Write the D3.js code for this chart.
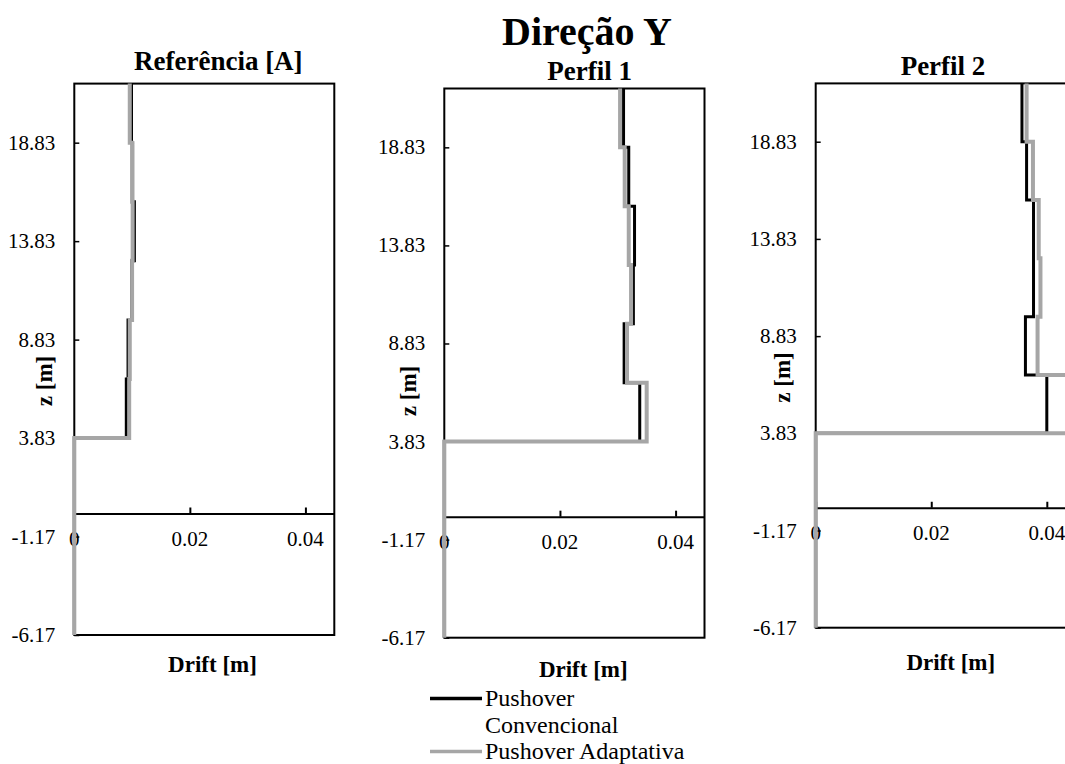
<!DOCTYPE html>
<html><head><meta charset="utf-8">
<script src="https://cdn.jsdelivr.net/npm/d3@7"></script>
<style>
body{margin:0;background:#fff}
svg{display:block}
text{font-family:"Liberation Serif","Times New Roman",serif;fill:#000}
</style>
</head><body>
<svg id="c" width="1065" height="764"></svg>
<script>
// ---- data ----
const levels = [-6.17, 3.83, 6.83, 9.83, 12.83, 15.83, 18.83, 21.83];
const refConv  = [0, 0.0090, 0.0093, 0.0099, 0.0104, 0.0101, 0.0099];
const refAdapt = [0, 0.0095, 0.0096, 0.0100, 0.0101, 0.0100, 0.0096];
const p1Conv   = [0, 0.0338, 0.0311, 0.0327, 0.0329, 0.0319, 0.0310];
const p1Adapt  = [0, 0.0350, 0.0316, 0.0323, 0.0319, 0.0312, 0.0304];
const p2Conv   = [0, 0.0400, 0.0363, 0.0377, 0.0377, 0.0365, 0.0357];
const p2Adapt  = [0, 0.0440, 0.0384, 0.0389, 0.0386, 0.0376, 0.0365];
const yTicks = [-6.17, -1.17, 3.83, 8.83, 13.83, 18.83];
const xTicks = [0, 0.02, 0.04];
const xDomain = [0, 0.045];
const zDomain = [-6.17, 21.83];
const panelTitles = ["Referência [A]", "Perfil 1", "Perfil 2"];
const mainTitle = "Direção Y";
const xTitle = "Drift [m]";
const yTitle = "z [m]";
const legendLines = [["Pushover", "Convencional"], ["Pushover Adaptativa"]];

// ---- layout ----
const panels = [
  {title: panelTitles[0], conv: refConv, adapt: refAdapt, left: 74.3, right: 334.3, top: 83.6, bottom: 635,
   tx: 218.3, ty: 70, ytx: 44, yty: 381, xtx: 212.5, xty: 671.7},
  {title: panelTitles[1], conv: p1Conv, adapt: p1Adapt, left: 444.3, right: 704.5, top: 88.5, bottom: 637.7,
   tx: 589.7, ty: 80, ytx: 408, yty: 391, xtx: 583.3, xty: 676.7},
  {title: panelTitles[2], conv: p2Conv, adapt: p2Adapt, left: 815.7, right: 1075.7, top: 83.4, bottom: 627.7,
   tx: 943, ty: 75, ytx: 782, yty: 377.5, xtx: 950.8, xty: 670}
];
const colConv = "#000000", colAdapt = "#A6A6A6";

const svg = d3.select("#c");

svg.append("text").attr("x", 587).attr("y", 45).attr("text-anchor", "middle")
  .attr("font-size", 40).attr("font-weight", "bold").text(mainTitle);

function stepPts(d) {
  const pts = [];
  d.forEach((v, i) => { pts.push([v, levels[i]]); pts.push([v, levels[i + 1]]); });
  return pts;
}

panels.forEach(p => {
  const x = d3.scaleLinear().domain(xDomain).range([p.left, p.right]);
  const y = d3.scaleLinear().domain(zDomain).range([p.bottom, p.top]);
  const g = svg.append("g");

  // frame
  g.append("rect").attr("x", p.left).attr("y", p.top)
    .attr("width", p.right - p.left).attr("height", p.bottom - p.top)
    .attr("fill", "none").attr("stroke", "#000").attr("stroke-width", 2);

  // y axis ticks (inward)
  const ya = g.append("g").attr("transform", `translate(${p.left},0)`)
    .call(d3.axisRight(y).tickValues(yTicks).tickSize(5).tickFormat(""));
  ya.select(".domain").remove();
  ya.selectAll("line").attr("stroke", "#000").attr("stroke-width", 1.5);
  g.selectAll(".ylab").data(yTicks).enter().append("text")
    .attr("x", p.left - 19).attr("y", d => y(d)).attr("text-anchor", "end")
    .attr("dominant-baseline", "central").attr("font-size", 21).text(d => d.toFixed(2));

  // x axis at z = 0, ticks upward
  const y0 = y(0);
  const xa = g.append("g").attr("transform", `translate(0,${y0})`)
    .call(d3.axisTop(x).tickValues(xTicks).tickSize(6).tickFormat("").tickSizeOuter(0));
  xa.select(".domain").attr("stroke", "#000").attr("stroke-width", 2);
  xa.selectAll("line").attr("stroke", "#000").attr("stroke-width", 2);
  g.selectAll(".xlab").data(xTicks).enter().append("text")
    .attr("x", d => x(d)).attr("y", y0 + 25.5).attr("text-anchor", "middle")
    .attr("dominant-baseline", "central").attr("font-size", 21).text(d => String(d));

  // titles
  g.append("text").attr("x", p.tx).attr("y", p.ty).attr("text-anchor", "middle")
    .attr("font-size", 27).attr("font-weight", "bold").text(p.title);
  g.append("text").attr("x", p.xtx).attr("y", p.xty).attr("text-anchor", "middle")
    .attr("font-size", 23).attr("font-weight", "bold").text(xTitle);
  g.append("text").attr("transform", `translate(${p.ytx},${p.yty}) rotate(-90)`)
    .attr("text-anchor", "middle").attr("dominant-baseline", "central")
    .attr("font-size", 23).attr("font-weight", "bold").text(yTitle);

  const line = d3.line().x(d => x(d[0])).y(d => y(d[1]));
  g.append("path").attr("d", line(stepPts(p.conv))).attr("fill", "none")
    .attr("stroke", colConv).attr("stroke-width", 3).attr("stroke-linejoin", "miter");
  g.append("path").attr("d", line(stepPts(p.adapt))).attr("fill", "none")
    .attr("stroke", colAdapt).attr("stroke-width", 4).attr("stroke-linejoin", "miter");
});

// legend
const lg = svg.append("g");
lg.append("line").attr("x1", 430).attr("x2", 482).attr("y1", 698.5).attr("y2", 698.5)
  .attr("stroke", colConv).attr("stroke-width", 3.5);
lg.append("text").attr("x", 485).attr("y", 705.5).attr("font-size", 24).text(legendLines[0][0]);
lg.append("text").attr("x", 485).attr("y", 732.5).attr("font-size", 24).text(legendLines[0][1]);
lg.append("line").attr("x1", 430).attr("x2", 482).attr("y1", 751.5).attr("y2", 751.5)
  .attr("stroke", colAdapt).attr("stroke-width", 3.5);
lg.append("text").attr("x", 485).attr("y", 758.5).attr("font-size", 24).text(legendLines[1][0]);
</script>
</body></html>
